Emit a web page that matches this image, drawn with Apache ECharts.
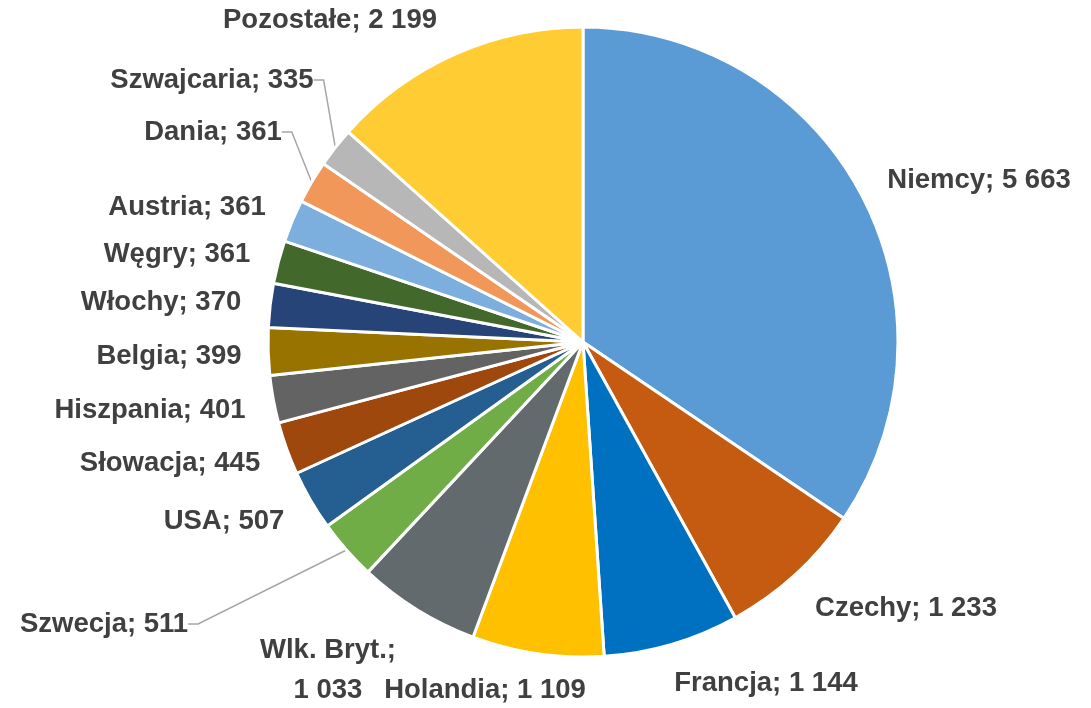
<!DOCTYPE html>
<html>
<head>
<meta charset="utf-8">
<script src="https://cdn.jsdelivr.net/npm/echarts@6/dist/echarts.min.js"></script>
<style>
  html, body { margin: 0; padding: 0; background: #fff; }
  #chart { width: 1091px; height: 708px; }
</style>
</head>
<body>
<div id="chart"></div>
<script>
const countries = ["Niemcy", "Czechy", "Francja", "Holandia", "Wlk. Bryt.", "Szwecja", "USA", "Słowacja",
  "Hiszpania", "Belgia", "Włochy", "Węgry", "Austria", "Dania", "Szwajcaria", "Pozostałe"];
const values = [5663, 1233, 1144, 1109, 1033, 511, 507, 445, 401, 399, 370, 361, 361, 361, 335, 2199];

const colors = ["#5B9BD5", "#C55A11", "#0070C0", "#FFC000", "#636A6E", "#70AD47", "#255E91", "#9E480E",
  "#636363", "#997300", "#264478", "#43682B", "#7CAFDD", "#F1975A", "#B7B7B7", "#FFCD33"];

// label centres (px), same order as countries
const labelPos = [[979, 180], [906, 608], [766, 683], [485, 690], [328, 670], [104, 624], [224, 521], [170, 463],
  [150, 410], [169, 356], [161, 302], [177, 254], [187, 207], [213, 132], [212, 80], [330, 20]];
const withLine = ["Szwecja", "Dania", "Szwajcaria"];

function fmt(v) {
  return String(v).replace(/\B(?=(\d{3})+(?!\d))/g, " ");
}

const chart = echarts.init(document.getElementById("chart"));
chart.setOption({
  animation: false,
  series: [{
    type: "pie",
    center: [583, 342],
    radius: 315,
    startAngle: 90,
    clockwise: true,
    avoidLabelOverlap: false,
    data: countries.map((n, i) => ({
      name: n,
      value: values[i],
      itemStyle: { color: colors[i] },
      labelLine: { show: withLine.includes(n) }
    })),
    itemStyle: { borderColor: "#fff", borderWidth: 3 },
    label: {
      show: true,
      position: "outside",
      color: "#404040",
      fontFamily: "Liberation Sans",
      fontWeight: "bold",
      fontSize: 27.5,
      lineHeight: 40,
      formatter: p => p.name + (p.name === "Wlk. Bryt." ? ";\n" : "; ") + fmt(p.value)
    },
    labelLine: {
      lineStyle: { color: "#A6A6A6", width: 1.5 },
      length: 10,
      length2: 10
    },
    labelLayout: function (params) {
      const p = labelPos[params.dataIndex];
      return { x: p[0], y: p[1], align: "center", verticalAlign: "middle" };
    }
  }]
});
</script>
</body>
</html>
